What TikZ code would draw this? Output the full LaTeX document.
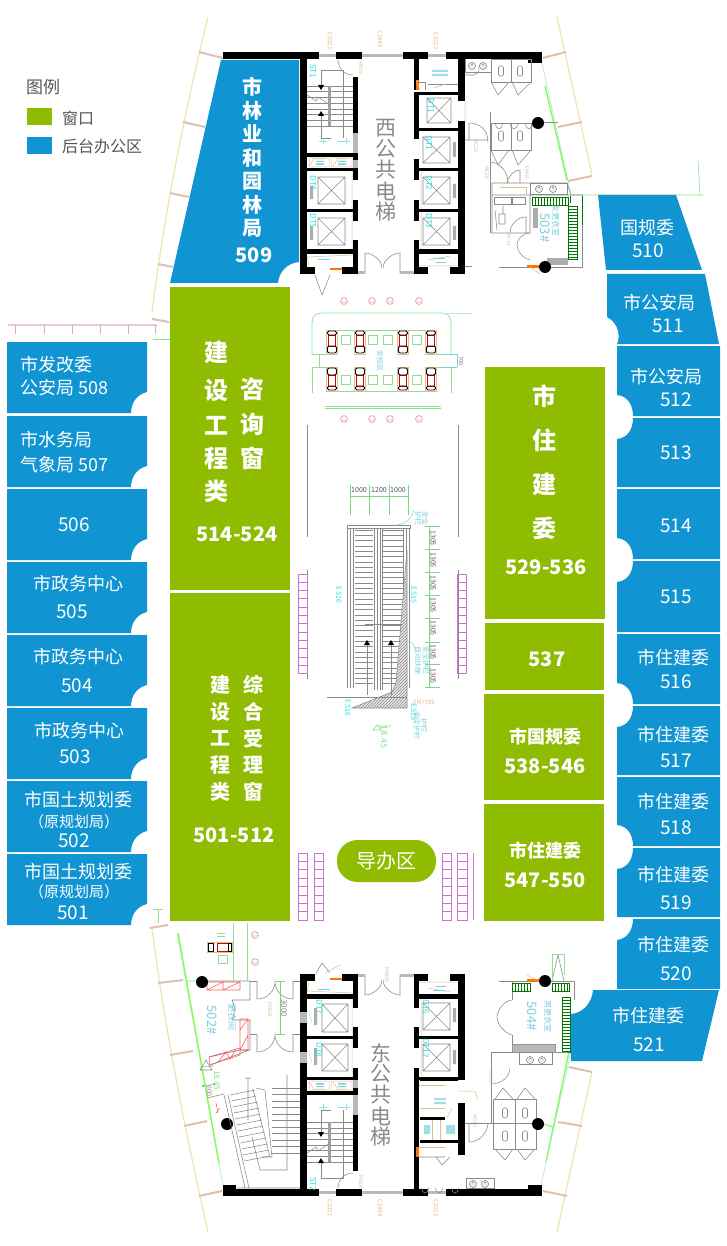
\documentclass[tikz,border=0pt]{standalone}
\usepackage{fontspec}
\setmainfont{Noto Sans CJK SC}
\usetikzlibrary{patterns}
\definecolor{roomblue}{HTML}{1095D2}
\definecolor{roomgreen}{HTML}{8FBB00}
\definecolor{cadgrey}{HTML}{8A8A8A}
\definecolor{cadtan}{HTML}{DDBE8E}
\definecolor{cadcyan}{HTML}{7CCFDD}
\definecolor{cadaqua}{HTML}{25E0E0}
\definecolor{cadgreen}{HTML}{8EE08E}
\definecolor{caddim}{HTML}{3FC84A}
\definecolor{cadpurple}{HTML}{CC70D2}
\definecolor{cadpink}{HTML}{E3A9A9}
\definecolor{stubtan}{HTML}{DFC0B0}
\definecolor{beige}{HTML}{EEE4B0}
\definecolor{legendtext}{HTML}{555555}
\newcounter{cadn}
\newcommand\fs[1]{\fontsize{#1}{#1}\selectfont}
\newcommand\wall[4]{\fill[black] (#1,#2) rectangle (#3,#4);}
\newcommand\xbox[4]{\draw[cadline] (#1,#2) rectangle (#3,#4) (#1,#2)--(#3,#4) (#1,#4)--(#3,#2);}
\newcommand\win[4]{\fill[cadgrey!60] (#1,#2) rectangle (#3,#4);}
\newcommand\cad[5]{\stepcounter{cadn}\node[text=#1,font=\fs{#2},rotate=-90,inner sep=0] (cad\thecadn) at (#3,#4) {#5};}
\newcommand\hladder[4]{\draw[cadladder] (#1,#2) rectangle (#3,#4);\foreach \q in {#1,...,#3}{\pgfmathparse{int(mod(\q-#1,3))}\ifnum\pgfmathresult=0 \draw[cadladder] (\q,#2)--(\q,#4);\fi}}
\newcommand\vladder[4]{\draw[cadladder] (#1,#2) rectangle (#3,#4);\foreach \q in {#2,...,#4}{\pgfmathparse{int(mod(\q-#2,3))}\ifnum\pgfmathresult=0 \draw[cadladder] (#1,\q)--(#3,\q);\fi}}
\newcommand\lockers[5]{\foreach \n in {1,...,#4}{\draw[purpleline] (#1,{#3+(\n-1)*#5}) rectangle (#2,{#3+\n*#5});}}
\newcommand\seat[2]{%
  \draw[tanline,line width=.9pt] (#1-5.5,#2) rectangle (#1+5.5,#2+24);
  \draw[red!85!black,line width=.7pt] (#1-3.5,#2+5) rectangle (#1+3.5,#2+16);
  \draw[black,line width=.9pt,rounded corners=1.5pt] (#1-4.5,#2+1) rectangle (#1+4.5,#2+5);
  \draw[black,line width=.9pt,rounded corners=2pt] (#1-4.5,#2+16) rectangle (#1+4.5,#2+23);}
\newcommand\seatb[2]{%
  \draw[tanline,line width=.9pt] (#1-5.5,#2) rectangle (#1+5.5,#2+24);
  \draw[red!85!black,line width=.7pt] (#1-3.5,#2+8) rectangle (#1+3.5,#2+19);
  \draw[black,line width=.9pt,rounded corners=2pt] (#1-4.5,#2+1) rectangle (#1+4.5,#2+8);
  \draw[black,line width=.9pt,rounded corners=1.5pt] (#1-4.5,#2+19) rectangle (#1+4.5,#2+23);}
\newcommand\pink[2]{\draw[pinkline] (#1,#2) circle[radius=3.4]; \draw[pinkline,line width=.4pt] (#1-2,#2) -- (#1,#2+1.5) -- (#1+2,#2);}
\newcommand\toilet[2]{\draw[cadline,rounded corners=1.5pt] (#1-2.5,#2-5) rectangle (#1+2.5,#2+5);}
\newcommand\sink[2]{\draw[cadline,fill=cadgrey!15] (#1,#2) circle[radius=3.6]; \fill[cadgrey] (#1,#2-1.5) circle[radius=.8];}
\newcommand\corecommon{%
  \wall{223}{52}{319}{59}\wall{336}{52}{362}{59}\wall{403}{52}{428}{59}\wall{446}{52}{542}{59}\wall{528}{52}{542}{63}
  \win{319}{54}{336}{57}\win{362}{54}{403}{57}\win{428}{54}{446}{57}
  \wall{300}{52}{307}{274}\wall{300}{267}{315}{274}
  \wall{353}{77}{358}{133}\win{353}{133}{358}{153}\wall{353}{153}{358}{160}\win{353}{160}{358}{168}
  \wall{353}{168}{358}{180}\wall{353}{200}{358}{221}\wall{353}{240}{358}{274}\wall{342}{267}{358}{274}
  \wall{307}{153}{353}{157}\wall{307}{168}{358}{171}\wall{307}{209}{358}{212}\wall{307}{249}{358}{254}
  \wall{414}{159}{419}{180}\wall{414}{200}{419}{221}\wall{414}{240}{419}{274}\wall{414}{267}{428}{274}
  \wall{414}{168}{458}{171}\wall{414}{209}{458}{212}\wall{414}{249}{458}{254}
  \wall{458}{168}{465}{274}\wall{450}{267}{465}{274}
  \xbox{423}{177}{450}{204}\xbox{423}{218}{450}{245}
  \fill[cadgrey!70] (453,184) rectangle (456,198) (453,226) rectangle (456,240);
  \foreach \yy in {86,91.7,...,126}{\draw[cadline] (307,\yy)--(353,\yy);}
  \fill[cadgrey!80] (328,86) rectangle (331,126);
  \draw[cadline] (307,95)--(316,101)--(318,97)--(330,105);
  \fill[black] (318,85)--(324,85)--(321,90)--cycle (318,116)--(324,116)--(321,111)--cycle;
  \draw[cadline] (321,85)--(321,70)--(343,70)--(343,138) (321,116)--(321,138)--(331,138);
  \draw[cadaqua!60,line width=.5pt] (319,141)--(327,141) (323,138)--(323,144) (338,141)--(350,141) (346,138)--(346,144);
  \draw[cadline] (338,60) .. controls (338,68) and (344,75) .. (353,75) (338,60)--(338,62);
  \draw[cadtan,line width=.5pt] (309,158) rectangle (329,167) (331,158) rectangle (352,167) (309,166)--(314,159)--(325,159) (333,166)--(338,159)--(348,159);
  \foreach \xx in {320,342}{\fill[cadcyan] (\xx-4,161) rectangle (\xx+4,162) (\xx-4,163.5) rectangle (\xx+4,165);}
  \draw[cadtan,line width=.5pt] (307,257)--(353,255) (309,266)--(307,256) (352,171)--(352,209) (352,212)--(352,249) (421,171)--(421,209) (421,212)--(421,249);
  \draw[cadtan,line width=.5pt] (419,266)--(458,266) (428,260)--(450,256);
  \draw[cadcyan,line width=.5pt] (318,259)--(330,259) (433,258)--(445,258) (436,262)--(446,262);
  \fill[orange!90!red] (330,268.5) rectangle (342,270.5);
  \draw[cadline] (365,273)--(365,253) .. controls (372,253) and (382,260) .. (382,268);
  \draw[cadline] (400,273)--(400,253) .. controls (393,253) and (383,260) .. (383,268);
  \win{358}{271}{365}{274}\win{400}{271}{414}{274}
}
\begin{document}
\begin{tikzpicture}[x=1pt,y=-1pt,
  cadline/.style={draw=cadgrey,line width=.55pt},
  tanline/.style={draw=cadtan,line width=.55pt},
  greenline/.style={draw=cadgreen,line width=.7pt},
  dimline/.style={draw=caddim!70,line width=.6pt},
  cadladder/.style={draw=green!45!black,line width=.5pt},
  purpleline/.style={draw=cadpurple,line width=1pt},
  pinkline/.style={draw=cadpink,line width=.8pt},
  roomb/.style={fill=roomblue,draw=none},
  roomg/.style={fill=roomgreen,draw=none},
  lab/.style={text=white,font=\fs{18},inner sep=0},
  bigl/.style={text=white,font=\fs{19},inner sep=0},
  gb/.style={text=white,font=\fs{24}\bfseries,inner sep=0},
  gm/.style={text=white,font=\fs{20}\bfseries,inner sep=0},
  gs/.style={text=white,font=\fs{18}\bfseries,inner sep=0},
  liftname/.style={text=cadgrey,font=\fs{21},inner sep=0},
  legendt/.style={text=legendtext,font=\fs{16},inner sep=0,anchor=west},
  col/.style={fill=black,draw=none}
]
\useasboundingbox (0,0) rectangle (727,1246);
\fill[white] (0,0) rectangle (727,1246);

% ---- facade, top
\draw[beige,line width=1.2pt] (208,17) .. controls (185,110) and (165,210) .. (152,312);
\draw[beige,line width=1.2pt] (557,17)--(592,175);
\draw[beige,line width=1.2pt] (152,928) .. controls (165,1030) and (185,1130) .. (208,1232);
\draw[beige,line width=1.2pt] (592,1072)--(557,1232);
\foreach \a/\b/\c/\d in {199/52/223/58,183/122/205/127,170/193/189/197,158/264/173/267,152/319/169/322,
  543/58/566/52,558/127/582/122,568/181/592/176,
  150/928/168/925,158/983/183/980,170/1055/193/1051,184/1126/207/1121,199/1196/222/1191,
  569/1067/592/1072,558/1122/582/1126,543/1191/567/1196}
  {\draw[stubtan,line width=2pt] (\a,\b)--(\c,\d);}
% glazing
\draw[cadcyan!60,line width=.6pt] (542,63)--(571,195);
\draw[green!60!lime!70!white,line width=1.4pt] (545,86)--(567,180);
\draw[cadgreen,line width=.6pt] (571,195)--(703,195) (698,160)--(700,195);
\draw[green!60!lime!70!white,line width=1.4pt] (569,1052)--(546,1162);
\draw[cadcyan!60,line width=.6pt] (571,1052)--(541,1185);
\draw[cadcyan!60,line width=.6pt] (177,933)--(223,1185);
\draw[green!60!lime!70!white,line width=1.4pt] (178,933)--(219,1163);
\draw[cadgreen,line width=.8pt] (186,981)--(197,981) (200,1067)--(214,1066);
% pink rail on the far left
\draw[cadpink!60,line width=1.4pt] (8,325)--(157,325);
\foreach \xx in {15,44,72,100,128,155}{\draw[cadpink,line width=.5pt] (\xx,325)--(\xx,334);}
\draw[cadgreen,line width=.8pt] (153,339)--(170,339);
\draw[cadgreen,line width=.8pt] (153,909)--(163,909) (158,909)--(158,923);

% ---- shared shaft, west and mirrored east
\corecommon
\begin{scope}[cm={1,0,0,-1,(0pt,-1248pt)}]
\corecommon
\end{scope}

% ---- west core extras
\xbox{318}{177}{345}{204}\xbox{318}{218}{345}{245}
\fill[cadgrey!70] (310,186) rectangle (313,199) (310,226) rectangle (313,240);
\wall{414}{52}{419}{90}\wall{414}{93}{419}{139}\wall{414}{92}{458}{95}\wall{414}{128}{458}{131}
\wall{458}{52}{465}{101}\wall{458}{121}{465}{168}
\xbox{427}{98}{451}{123}\xbox{423}{137}{450}{163}
\fill[cadgrey!70] (453,142) rectangle (456,157);
\fill[orange!90!red] (416,80) rectangle (419,90);
\draw[cadline] (419,82)--(425,82)--(425,90) (428,84)--(458,84);
\draw[cadtan,line width=.5pt] (420,90)--(416,80) (465,101)--(465,121) (446,84)--(434,88);
\fill[cadcyan!70] (432,70) rectangle (448,72) (432,74) rectangle (448,76);
\draw[cadline] (315,275)--(322,295)--(330,275);
\draw[cadline] (465,75)--(474,75) .. controls (480,73) and (479,69) .. (479,66);
% west toilets
\draw[cadline] (465,59)--(465,72)--(491,72)--(491,59);
\sink{472}{66}\sink{483}{66}
\draw[cadline] (491,59) rectangle (531,82) (511,59)--(511,82);
\toilet{501}{71}\toilet{520}{71}
\draw[cadline] (491,82)--(498,95)--(509,82) (512,82)--(518,95)--(531,82);
\draw[cadline] (490,112)--(490,233) (490,123)--(533,123);
\foreach \xx in {499,514,529}{\draw[cadline] (\xx-3.5,123) arc[start angle=180,end angle=0,x radius=3.5,y radius=6];}
\draw[cadline] (491,123) rectangle (531,150) (511,123)--(511,150);
\toilet{501}{136}\toilet{520}{136}
\draw[cadline] (491,150)--(498,165)--(509,150) (512,150)--(518,165)--(531,150);
\draw[cadline] (469,123)--(469,140) (465,140)--(488,140) (469,123) .. controls (480,123) and (488,130) .. (488,142);
\draw[cadline] (490,162) .. controls (500,162) and (508,172) .. (508,183) (507,183) .. controls (509,175) and (514,170) .. (520,170)--(520,183);
\draw[cadline] (492,183)--(567,183)--(571,195) (492,195)--(582,195) (492,183)--(492,233)--(530,233) (530,195)--(530,233);
\draw[cadline,fill=white] (530,183) rectangle (567,194);
\sink{539}{189}\sink{553}{189}
\draw[cadtan,line width=.5pt] (500,187)--(526,187)--(526,194);
\draw[cadline] (494,197) rectangle (511,204) (512,197) rectangle (525,204);
\draw[cadline] (495,210)--(497,230) (503,206)--(503,214) (499,214) rectangle (505,224);
\draw[cadline] (510,233) .. controls (510,224) and (518,217) .. (526,217)--(526,233);
\fill[cadgrey!70] (533,208) rectangle (538,228);
\draw[cadline] (530,233) .. controls (522,233) and (517,240) .. (517,245) .. controls (517,250) and (522,258) .. (530,260);
\hladder{532}{197}{568}{205}\vladder{568}{206}{577}{259}
\fill[cadgrey!70] (547,258) rectangle (568,265);
\draw[cadline] (582,195)--(582,267)--(550,267);
\draw[cadladder] (570,203)--(570,196) (582,196)--(582,225);
\draw[cadline] (465,266)--(472,266) (499,267)--(527,267);
\fill[orange!90!red] (527,265) rectangle (539,268);
\draw[cadtan,line width=.5pt] (530,267)--(540,274);
\fill[col] (538,123) circle[radius=6] (545,267) circle[radius=6];
\draw[cadgrey,line width=1pt] (544,123)--(558,123);
\cad{cadcyan}{8}{556}{221}{女更衣室}
\cad{cadcyan}{13}{545}{228}{503\#}

% ---- east core extras
\xbox{322}{1004}{348}{1032}\xbox{322}{1044}{348}{1071}
\fill[cadgrey!70] (314,1008) rectangle (317,1025) (314,1048) rectangle (317,1065);
\win{300}{1012}{307}{1023}\win{300}{1052}{307}{1063}
\draw[cadcyan!70,line width=.5pt] (309,1014)--(312,1022) (309,1054)--(312,1062);
\wall{414}{1068}{419}{1196}\wall{458}{1103}{465}{1155}
\wall{420}{1078}{458}{1081}\wall{420}{1117}{445}{1120}\wall{420}{1140}{458}{1143}
\fill[orange!90!red] (416,1147) rectangle (419,1157);
\draw[cadtan,line width=.5pt] (419,1085)--(445,1085) (420,1108)--(445,1108) (432,1120)--(432,1140) (419,1147)--(445,1147) (440,1120)--(440,1140);
\fill[cadcyan!70] (434,1098) rectangle (446,1100) (434,1102) rectangle (446,1104) (424,1125) rectangle (430,1134) (446,1125) rectangle (455,1134);
\draw[cadline] (419,1157)--(445,1157) (436,1157)--(442,1165)--(450,1157);
\draw[cadtan,line width=.5pt] (458,1091)--(475,1091)--(478,1100) (465,1123)--(488,1123) (447,1118)--(452,1108);
\foreach \xx in {425,439,455}{\draw[cadline] (\xx-3.5,1188) arc[start angle=180,end angle=0,x radius=3.5,y radius=5];}
\draw[cadline] (466,1178) rectangle (494,1188);
\sink{473}{1184}\sink{485}{1184}
% east locker room
\draw[cadline] (499,981)--(527,981) (550,981)--(574,981)--(574,1000) (512,981)--(512,1000) (512,1035)--(512,1052);
\draw[cadline] (512,1000) .. controls (505,1000) and (497,1010) .. (497,1017) .. controls (497,1025) and (505,1033) .. (512,1035);
\fill[orange!90!red] (527,979) rectangle (539,982);
\draw[cadtan,line width=.5pt] (527,975)--(539,981);
\hladder{512}{983}{530}{991}\hladder{552}{983}{569}{991}\vladder{562}{997}{570}{1052}
\draw[cadline] (552,981)--(558,955)--(564,981);
\draw[cadgreen,line width=.5pt] (552,954)--(564,954) (552,954)--(552,981) (564,954)--(564,975);
\draw[cadgrey!90,fill=cadgrey!60] (512,1044) rectangle (555,1052);
\draw[cadline] (491,1052)--(569,1052) (491,1052)--(491,1123);
\draw[cadline] (519,1052) rectangle (552,1064);
\sink{530}{1060}\sink{542}{1060}
\draw[cadline] (510,1068) .. controls (510,1077) and (501,1084) .. (491,1084);
\draw[cadline] (465,1123)--(536,1123) (493,1099) rectangle (536,1149) (515,1099)--(515,1149);
\toilet{505}{1113}\toilet{525}{1113}\toilet{505}{1136}\toilet{525}{1136}
\draw[cadline] (495,1099)--(503,1088)--(513,1099) (517,1099)--(525,1088)--(535,1099);
\draw[cadline] (495,1149)--(505,1160)--(513,1149) (517,1149)--(525,1160)--(535,1149);
\draw[cadline] (469,1123)--(469,1142) .. controls (480,1142) and (488,1132) .. (488,1123);
\fill[col] (538,1124) circle[radius=6] (545,981) circle[radius=6];
\draw[green!60!lime!70!white,line width=1.2pt] (544,1124)--(553,1127);
\cad{cadcyan}{8}{548}{1016}{男更衣室}
\cad{cadcyan}{13}{532}{1016}{504\#}
% east left wing
\wall{223}{1185}{236}{1196}
\draw[cadline,line width=.7pt] (207,981)--(250,981)--(250,1000)--(232,1000) .. controls (235,1005) and (235,1015) .. (232,1020)--(250,1020)--(250,1050)--(240,1050)--(209,1057) (210,1065)--(249,1050);
\draw[cadline] (250,981)--(257,981) (293,981)--(300,981) (250,1034)--(257,1034) (293,1034)--(300,1034);
\draw[cadline] (257,981)--(257,999) .. controls (268,999) and (275,990) .. (275,982) .. controls (275,990) and (282,999) .. (293,999)--(293,981);
\draw[cadline] (257,1034)--(257,1052) .. controls (268,1052) and (275,1043) .. (275,1035) .. controls (275,1043) and (282,1052) .. (293,1052)--(293,1034);
\draw[red!65,line width=.6pt] (207,982) rectangle (240,990) (207,990)--(223,982)--(223,990)--(240,982) (240,1019) rectangle (248,1050) (240,1030)--(248,1019) (240,1050)--(248,1035) (209,1057)--(240,1048)--(240,1055)--(210,1065)--cycle (218,1062)--(226,1052)--(230,1059)--(236,1049);
\draw[dimline] (280,981)--(280,1034) (275,981)--(285,981) (275,1034)--(285,1034);
\fill[col] (202,982) circle[radius=6] (227,1124) circle[radius=6];
\foreach \yy in {1088,1094.5,...,1155}{\draw[cadline] (272,\yy)--(300,\yy);}
\foreach \t in {0,...,11}{\draw[cadline] ({230+\t*1.3},{1095+\t*6})--({255+\t*1.36},{1090+\t*6});}
\draw[cadline] (256,1088)--(265,1090)--(272,1157)--(262,1157) (253,1089)--(270,1157);
\draw[cadline] (224,1095)--(245,1188) (228,1095)--(249,1188) (207,1098)--(224,1094) (237,1188)--(300,1188);
\draw[cadline] (248,1120)--(248,1078) (287,1075)--(287,1170)--(260,1170)--(252,1137) (245,1078)--(251,1078);
\draw[red!60,line width=.6pt] (216,1103)--(218,1113) (216,1113)--(220,1108);
\draw[cadline] (200,1070)--(206,1060)--(212,1070)--cycle;
\draw[dimline] (203,1086)--(215,1084);
\fill[caddim] (203,1086) circle[radius=1.2] (214,1084) circle[radius=1.2];
\draw[cadgreen,line width=.9pt] (233,923)--(233,981) (247,923)--(247,981);
\draw[cadgreen,line width=.9pt] (218,955) rectangle (227,963) (217,933)--(225,933) (217,936)--(225,936);
\draw[cadtan,line width=.9pt] (207,942) rectangle (232,952);
\draw[red!85!black,line width=.7pt] (217,943) rectangle (228,951);
\draw[black,line width=.9pt] (208,943) rectangle (213,951) (228,943) rectangle (231,951);
\pink{255}{935}\pink{255}{962}
\draw[cadline] (316,973)--(322,963)--(330,973);
\draw[cadtan,line width=.5pt] (325,973)--(340,965);
\cad{cadcyan}{9}{232}{1017}{更衣间}
\cad{cadcyan}{13}{212}{1020}{502\#}
\cad{cadgrey}{8}{284}{1008}{3000}
\cad{cadgreen}{8}{217}{1080}{18.45}
\cad{cadgrey}{7}{209}{1091}{600}

% ---- labels of the two cores
\cad{cadaqua}{8}{313}{71}{ST1}\cad{cadaqua}{8}{313}{183}{DT4}\cad{cadaqua}{8}{313}{221}{DT5}
\cad{cadaqua}{8}{429}{183}{DT2}\cad{cadaqua}{8}{429}{221}{DT3}\cad{cadaqua}{8}{429}{143}{DT1}\cad{cadaqua}{8}{431}{106}{DT1}
\cad{cadaqua}{8}{313}{1184}{ST2}\cad{cadaqua}{8}{319}{1007}{DT7}\cad{cadaqua}{8}{319}{1050}{DT8}
\cad{cadaqua}{8}{426}{1007}{DT6}\cad{cadaqua}{8}{426}{1048}{DT12}
\cad{cadtan}{6}{330}{41}{C1022}\cad{cadtan}{6}{380}{39}{C1848}\cad{cadtan}{6}{436}{41}{C1022}
\cad{cadtan}{6}{330}{1208}{C1022}\cad{cadtan}{6}{380}{1208}{C1848}\cad{cadtan}{6}{436}{1208}{C1022}
\cad{cadtan}{5}{361}{68}{MD18}\cad{cadtan}{5}{476}{146}{MC10}\cad{cadtan}{5}{487}{173}{MC10}\cad{cadtan}{5}{527}{173}{FM05}\cad{cadtan}{5}{509}{240}{MC10}
\cad{cadtan}{5}{361}{1182}{FM18}\cad{cadtan}{5}{387}{975}{FM832}\cad{cadtan}{5}{270}{1010}{FM823}\cad{cadtan}{5}{491}{1077}{MC10}\cad{cadtan}{5}{475}{1121}{MC10}

% ---- service counter block
\draw[greenline] (312,354)--(312,323) .. controls (312,316) and (316,313) .. (322,313)--(441,313) .. controls (447,313) and (451,316) .. (451,323)--(451,354);
\draw[cadcyan!50,line width=.6pt] (443,313)--(473,313);
\draw[greenline] (312,354)--(326,354) (437,354)--(451,354) (312,367)--(326,367) (437,367)--(451,367);
\draw[greenline] (312,367)--(312,393) (451,367)--(451,393) (326,330)--(437,330) (326,391)--(437,391) (319,354)--(319,367);
\draw[greenline] (325,406)--(441,406) (325,408)--(441,408);
\draw[cadcyan,line width=.5pt] (443,354)--(457,354) (443,367)--(457,367) (457,354)--(457,367);
\foreach \xx in {332,360,403,431}{\seat{\xx}{330}\seatb{\xx}{367}}
\foreach \xx in {346,373,388,417}{\draw[greenline] (\xx-4.5,335.5) rectangle (\xx+4.5,344.5) (\xx-4.5,375.5) rectangle (\xx+4.5,384.5);}
\foreach \xx in {344,372,390,419}{\pink{\xx}{301}\pink{\xx}{419}}
\cad{cadcyan}{7}{380}{361}{安检区}
\cad{cadgrey}{6}{461}{361}{700}

% ---- long walls and lockers
\draw[cadgrey,line width=.8pt] (307,425)--(307,537) (458,425)--(458,537) (307,570)--(307,679) (458,570)--(458,679);
\lockers{298}{307}{574}{12}{8.33}\lockers{457}{466}{574}{12}{8.33}
\lockers{298}{307}{853}{8}{8.4}\lockers{314}{323}{853}{8}{8.4}\lockers{442}{451}{853}{8}{8.4}\lockers{457}{467}{853}{8}{8.4}
\draw[cadpurple,line width=.5pt] (473,853)--(473,920);

% ---- escalators
\draw[dimline] (350,485)--(350,515) (369,485)--(369,515) (389,485)--(389,515) (408,485)--(408,515) (350,496)--(408,496);
\draw[cadline] (347,525) rectangle (410,528) (347,528)--(347,688) (350,528)--(350,688) (353,528)--(353,688) (403,528)--(403,688) (406,528)--(406,688) (409,528)--(409,688) (374,528)--(374,690) (377,528)--(377,690) (380,528)--(380,690) (382,528)--(382,690);
\foreach \yy in {530,535.3,...,684}{\draw[cadline] (355,\yy)--(373,\yy) (383,\yy)--(403,\yy);}
\fill[cadgrey!20] (407,557)--(396,683)--(392,692)--(352,708)--(407,708)--cycle;
\fill[pattern=north east lines,pattern color=cadgrey] (407,557)--(396,683)--(392,692)--(352,708)--(407,708)--cycle;
\draw[cadline] (407,550)--(396,683)--(392,692)--(352,708)--(407,708)--(407,550);
\draw[cadline] (327,697)--(407,697) (365,624)--(402,624) (367,645)--(367,695) (391,645)--(391,695);
\fill[black] (364,645)--(370,645)--(367,640)--cycle (388,645)--(394,645)--(391,640)--cycle;
\foreach \yy in {526,549,572,595,618,642,664,687}{\draw[dimline] (425,\yy)--(440,\yy);}
\draw[dimline] (429,526)--(429,687);
\stepcounter{cadn}\node[text=legendtext,font=\fs{7},inner sep=0] (dima) at (359,490) {1000};
\stepcounter{cadn}\node[text=legendtext,font=\fs{7},inner sep=0] (dimb) at (379,490) {1200};
\stepcounter{cadn}\node[text=legendtext,font=\fs{7},inner sep=0] (dimc) at (398,490) {1000};
\foreach \yy in {538,560,583,605,628,652,676}{\cad{legendtext}{7}{433}{\yy}{1305}}
\cad{cadaqua}{7}{339}{595}{ES16}\cad{cadaqua}{7}{414}{595}{ES15}\cad{cadaqua}{7}{348}{708}{ES16}\cad{cadaqua}{7}{414}{712}{ES15}
\cad{cadcyan}{7}{418}{518}{护栏}\cad{cadcyan}{7}{425}{518}{安全}
\cad{cadcyan}{7}{418}{660}{自动扶梯}\cad{cadcyan}{7}{426}{660}{安全护栏}
\cad{cadcyan}{7}{417}{725}{安全护栏}\cad{cadcyan}{7}{424}{725}{护栏}
\draw[cadcyan,line width=.5pt] (397,525) .. controls (408,524) and (412,516) .. (414,510) (408,642) .. controls (413,642) and (414,645) .. (415,650);
\stepcounter{cadn}\node[text=cadtan,font=\fs{6},inner sep=0] (fm) at (424,702) {FM7935};
\draw[caddim!60,line width=.6pt] (373,730)--(377,725)--(381,730)--cycle (378,726)--(391,726);
\cad{cadgreen}{9}{384}{737}{18.45}

% ---- grey lift captions
\foreach \ch [count=\i] in {西,公,共,电,梯}{\pgfmathsetmacro\yy{128+(\i-1)*21}\node[liftname] (liftw\i) at (386,\yy) {\ch};}
\foreach \ch [count=\i] in {东,公,共,电,梯}{\pgfmathsetmacro\yy{1053+(\i-1)*21}\node[liftname] (lifte\i) at (381,\yy) {\ch};}

% ---- blue rooms, west side
\foreach \nm/\ya/\yb in {r508/342/413,r507/416/487,r506/489/560,r505/562/633,r504/635/706,r503/708/779,r502/781/852,r501/854/925}
  {\path[roomb] (7,\ya)--(147,\ya)--(147,\yb-21) .. controls (138,\yb-19) and (131,\yb-11) .. (131,\yb)--(7,\yb)--cycle;}
% ---- blue rooms, east side
\path[roomb] (598,195)--(676,195)--(702,270)--(606,270)--cycle;
\path[roomb] (607,274)--(705,274)--(719,344)--(617,344) .. controls (620,338) and (620,324) .. (607,317)--cycle;
\foreach \ya/\yb/\bite in {346/416/0,489/559/0,634/704/0,777/846/0}
  {\path[roomb] (617,\ya)--(720,\ya)--(720,\yb)--(633,\yb) .. controls (633,\yb-12) and (627,\yb-20) .. (617,\yb-21)--cycle;}
\foreach \ya/\yb in {418/487,561/632,706/775,848/917}
  {\path[roomb] (617,\ya+21)  .. controls (627,\ya+20) and (633,\ya+12) .. (633,\ya)--(720,\ya)--(720,\yb)--(617,\yb)--cycle;}
\path[roomb] (633,919)--(720,919)--(720,989)--(617,989)--(617,940) .. controls (627,939) and (633,930) .. (633,919)--cycle;
\path[roomb] (593,990)--(719,990)--(702,1061)--(571,1061)--(571,1014) .. controls (583,1013) and (592,1003) .. (593,990)--cycle;
\path[roomb] (221,60)--(299,60)--(299,262) .. controls (287,263) and (279,272) .. (278,283)--(170,283)--cycle;
% ---- green rooms
\path[roomg] (170,287) rectangle (290,590);
\path[roomg] (170,593) rectangle (290,921);
\path[roomg] (485,367) rectangle (605,619);
\path[roomg] (485,623) rectangle (604,690);
\path[roomg] (484,694) rectangle (604,800);
\path[roomg] (484,804) rectangle (604,921);
\path[roomg,rounded corners=20.5pt] (337,840) rectangle (436,882);

% ---- room labels
\node[lab,anchor=west] (t508a) at (20,365) {市发改委};
\node[lab,anchor=west] (t508b) at (20,388) {公安局 508};
\node[lab,anchor=west] (t507a) at (20,440) {市水务局};
\node[lab,anchor=west] (t507b) at (20,465) {气象局 507};
\node[bigl] (t506) at (74,525) {506};
\node[lab] (t505a) at (78,584) {市政务中心};\node[bigl] (t505b) at (72,612) {505};
\node[lab] (t504a) at (78,657) {市政务中心};\node[bigl] (t504b) at (77,686) {504};
\node[lab] (t503a) at (79,731) {市政务中心};\node[bigl] (t503b) at (75,757) {503};
\node[lab] (t502a) at (78,800) {市国土规划委};\node[text=white,font=\fs{15},inner sep=0] (t502b) at (74,822) {（原规划局）};\node[bigl] (t502c) at (74,841) {502};
\node[lab] (t501a) at (78,872) {市国土规划委};\node[text=white,font=\fs{15},inner sep=0] (t501b) at (74,892) {（原规划局）};\node[bigl] (t501c) at (73,913) {501};
\node[lab] (t510a) at (647,228) {国规委};\node[bigl] (t510b) at (648,251) {510};
\node[lab] (t511a) at (659,303) {市公安局};\node[bigl] (t511b) at (668,326) {511};
\node[lab] (t512a) at (666,377) {市公安局};\node[bigl] (t512b) at (676,400) {512};
\node[bigl] (t513) at (676,453) {513};
\node[bigl] (t514) at (676,526) {514};
\node[bigl] (t515) at (676,597) {515};
\node[lab] (t516a) at (673,658) {市住建委};\node[bigl] (t516b) at (676,682) {516};
\node[lab] (t517a) at (673,735) {市住建委};\node[bigl] (t517b) at (676,761) {517};
\node[lab] (t518a) at (673,802) {市住建委};\node[bigl] (t518b) at (676,828) {518};
\node[lab] (t519a) at (673,875) {市住建委};\node[bigl] (t519b) at (676,903) {519};
\node[lab] (t520a) at (673,945) {市住建委};\node[bigl] (t520b) at (676,974) {520};
\node[lab] (t521a) at (648,1016) {市住建委};\node[bigl] (t521b) at (649,1045) {521};

\foreach \ch [count=\i] in {市,林,业,和,园,林,局}{\pgfmathsetmacro\yy{87+(\i-1)*23.5}\node[gm] (w\i) at (252,\yy) {\ch};}
\node[gm] (t509) at (254,255) {509};
\foreach \ch/\yy [count=\i] in {建/352,设/390,工/426,程/458,类/491}{\node[gb] (ga\i) at (216,\yy) {\ch};}
\foreach \ch/\yy [count=\i] in {咨/389,询/424,窗/458}{\node[gb] (gc\i) at (252,\yy) {\ch};}
\node[gs,font=\fs{20}\bfseries] (g514) at (237,534) {514-524};
\foreach \ch/\yy [count=\i] in {建/685,设/712,工/738,程/765,类/792}{\node[gm] (gd\i) at (220,\yy) {\ch};}
\foreach \ch/\yy [count=\i] in {综/685,合/712,受/739,理/765,窗/792}{\node[gm] (ge\i) at (253,\yy) {\ch};}
\node[gm] (g501) at (234,835) {501-512};
\foreach \ch/\yy [count=\i] in {市/396,住/440,建/484,委/528}{\node[gb] (gf\i) at (544,\yy) {\ch};}
\node[gm] (g529) at (546,567) {529-536};
\node[gm] (g537) at (547,659) {537};
\node[gs] (g538a) at (545,737) {市国规委};
\node[gm] (g538b) at (545,766) {538-546};
\node[gs] (g547a) at (545,851) {市住建委};
\node[gm] (g547b) at (545,880) {547-550};
\node[text=white,font=\fs{20},inner sep=0] (pill) at (386,861) {导办区};

% ---- legend
\node[legendt,font=\fs{17}] (lgt) at (26,87) {图例};
\path[roomg] (27,108) rectangle (52,125);
\path[roomb] (27,137) rectangle (52,154);
\node[legendt] (lg1) at (62,118) {窗口};
\node[legendt] (lg2) at (62,146) {后台办公区};
\end{tikzpicture}
\end{document}
